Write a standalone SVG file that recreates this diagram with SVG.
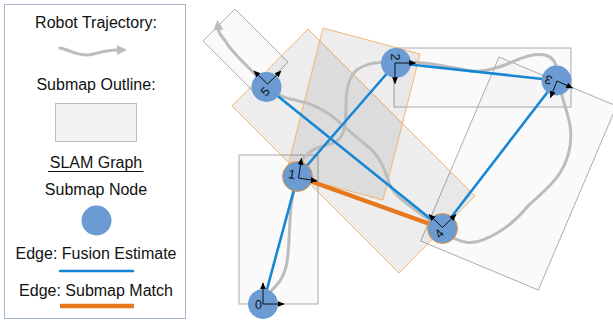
<svg xmlns="http://www.w3.org/2000/svg" width="613" height="322" viewBox="0 0 613 322">
  <style>
    .lg { font-family: "Liberation Sans", Arial, sans-serif; font-size: 16px; fill: #111; text-anchor: middle; }
    .nl { font-family: "Liberation Sans", Arial, sans-serif; font-size: 12.5px; fill: #111; text-anchor: middle; }
    .sub { fill: #000; fill-opacity: 0.02; stroke: #a3a3a3; stroke-width: 0.9; }
    .subm { fill: #000; fill-opacity: 0.07; stroke: #f0b060; stroke-width: 0.9; }
    .traj { fill: none; stroke: #bcbcbc; stroke-width: 3; stroke-linecap: round; stroke-linejoin: round; }
    .fus { stroke: #1687d4; stroke-width: 2.6; stroke-linecap: round; }
    .mat { stroke: #e8781e; stroke-width: 4.5; stroke-linecap: butt; }
    .node { fill: #6b9bd2; }
    .matched { stroke: #e8953f; stroke-width: 1; }
    .ax { stroke: #000; stroke-width: 0.9; fill: none; marker-end: url(#axh); }
  </style>
  <defs>
    <marker id="axh" viewBox="0 0 10 10" refX="9" refY="5" markerWidth="7" markerHeight="7" markerUnits="userSpaceOnUse" orient="auto">
      <path d="M0,0.8 L10,5 L0,9.2 z" fill="#000"/>
    </marker>
    <marker id="trh" viewBox="0 0 10 10" refX="0" refY="5" markerWidth="15" markerHeight="10" markerUnits="userSpaceOnUse" orient="auto">
      <path d="M0,0 L10,5 L0,10 z" fill="#bcbcbc"/>
    </marker>
  </defs>

  <!-- legend -->
  <g id="legend">
    <rect x="4.5" y="4.5" width="181" height="314" fill="#fff" stroke="#a7b7c9" stroke-width="1"/>
    <text class="lg" x="96" y="28">Robot Trajectory:</text>
    <path class="traj" d="M60,48 C70,50 78,56 88,55 C97,54 104,50 117,50" marker-end="url(#trh)"/>
    <text class="lg" x="96" y="90">Submap Outline:</text>
    <rect x="55.5" y="103.5" width="81" height="38" fill="#f2f2f2" stroke="#bdbdbd" stroke-width="1"/>
    <text class="lg" x="96" y="168">SLAM Graph</text>
    <line x1="48" y1="171.5" x2="143.5" y2="171.5" stroke="#111" stroke-width="1"/>
    <text class="lg" x="96" y="195">Submap Node</text>
    <circle class="node" cx="96.5" cy="220.5" r="15"/>
    <text class="lg" x="96" y="259">Edge: Fusion Estimate</text>
    <line class="fus" x1="60" y1="271" x2="133" y2="271" stroke-linecap="butt"/>
    <text class="lg" x="96" y="296">Edge: Submap Match</text>
    <line class="mat" x1="60" y1="306" x2="134" y2="306"/>
  </g>

  <!-- submap outlines -->
  <g id="submaps">
    <rect id="submap-a" class="sub" x="239" y="155" width="79" height="149"/>
    <polygon id="submap-b" class="sub" points="203,41 235,9 288,62 256,94"/>
    <rect id="submap-c" class="sub" x="394" y="48" width="177" height="59"/>
    <polygon id="submap-d" class="sub" points="499,57 616.6,106 538.3,290 420.7,241"/>
    <polygon id="submap-e" class="subm" points="232,106 308,29 475,196 399,273"/>
    <polygon id="submap-f" class="subm" points="323,28 420,54 383,200 286,174"/>
  </g>

  <!-- robot trajectory -->
  <path id="trajectory" class="traj" marker-end="url(#trh)" d="M266,296 C276,286 284,280 287,262 C290,244 289,215 292,200 L298,172 C300,162 303,157 310,152 C318,146 330,145 337,141 C346,134 346,120 346,105 C346,90 348,76 358,69 C366,64 374,62 390,62 L412,62 C430,63 450,67 465,70 C478,73 490,70 505,65 C520,59 530,53 545,55 C553,57 556,62 557,70 C558,90 566,105 570,125 C573,145 568,160 560,173 C550,188 538,196 528,206 C515,222 500,233 485,239 C472,245 462,243 450,236 L442,228 L425,217 C412,207 396,198 390,185 C385,172 383,162 372,150 C360,140 350,132 338,121 C325,109 310,103 295,100 C285,98 278,96 267,87 L253,72 C243,62 232,52 226,42 C222,36 219,34 218.5,30"/>

  <!-- graph edges -->
  <g id="edges">
    <line class="fus" x1="263" y1="304" x2="297.5" y2="176.5"/>
    <line class="fus" x1="297.5" y1="176.5" x2="396" y2="63"/>
    <line class="fus" x1="396" y1="63" x2="556.5" y2="80.5"/>
    <line class="fus" x1="556.5" y1="80.5" x2="442.5" y2="228.5"/>
    <line class="fus" x1="442.5" y1="228.5" x2="266.5" y2="87"/>
    <line class="mat" x1="297.5" y1="176.5" x2="442.5" y2="228.5"/>
  </g>

  <!-- submap nodes -->
  <g id="node-0">
    <circle class="node" cx="263" cy="304" r="15"/>
    <path class="ax" d="M263,304 H284"/>
    <path class="ax" d="M263,304 V283"/>
    <text class="nl" transform="translate(258.5,304.5)" dy="0.36em">0</text>
  </g>
  <g id="node-1">
    <circle class="node matched" cx="297.5" cy="176.5" r="15"/>
    <path class="ax" d="M298.5,178 L317,181"/>
    <path class="ax" d="M298.5,178 L301.5,158.5"/>
    <text class="nl" transform="translate(292,174) rotate(9)" dy="0.36em">1</text>
  </g>
  <g id="node-2">
    <circle class="node" cx="396" cy="63" r="15"/>
    <path class="ax" d="M395,63 H415.5"/>
    <path class="ax" d="M395,63 V83.5"/>
    <text class="nl" transform="translate(395,57) rotate(90)" dy="0.36em">2</text>
  </g>
  <g id="node-3">
    <circle class="node" cx="556.5" cy="80.5" r="15"/>
    <path class="ax" d="M557,81 L572.5,88"/>
    <path class="ax" d="M557,81 L550.5,97.5"/>
    <text class="nl" transform="translate(548.5,80) rotate(200)" dy="0.36em">3</text>
  </g>
  <g id="node-4">
    <circle class="node matched" cx="442.5" cy="228.5" r="15"/>
    <path class="ax" d="M442.5,227.5 L429,214.5"/>
    <path class="ax" d="M442.5,227.5 L456,214.5"/>
    <text class="nl" transform="translate(439,233.5) rotate(-47)" dy="0.36em">4</text>
  </g>
  <g id="node-5">
    <circle class="node" cx="266.5" cy="87" r="15"/>
    <path class="ax" d="M267.5,84 L254,71"/>
    <path class="ax" d="M267.5,84 L281,71"/>
    <text class="nl" transform="translate(265,91.5) rotate(-47)" dy="0.36em">5</text>
  </g>
</svg>
